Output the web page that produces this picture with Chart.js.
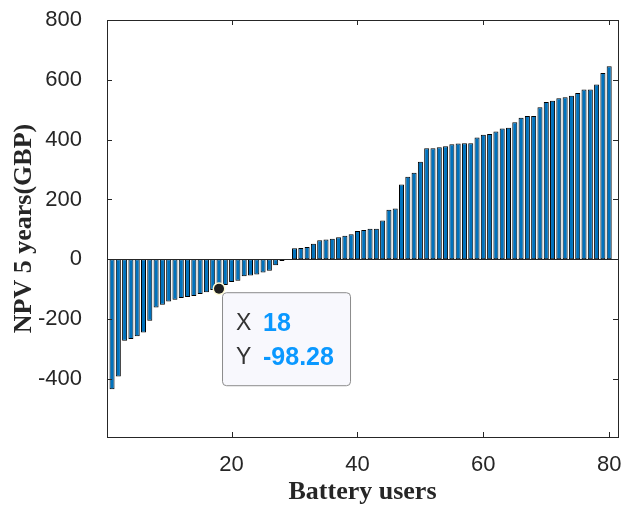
<!DOCTYPE html>
<html>
<head>
<meta charset="utf-8">
<script src="https://cdn.jsdelivr.net/npm/chart.js@4"></script>
<style>
  html, body { margin: 0; padding: 0; background: #ffffff; }
  #wrap { width: 628px; height: 510px; }
</style>
</head>
<body>
<div id="wrap"><canvas id="npvChart" width="628" height="510"></canvas></div>
<script>
// Battery users sorted by 5-year NPV (GBP)
const users = Array.from({ length: 80 }, (_, i) => i + 1);
const npv = [
    -434, -392, -272, -266, -257, -245, -205, -161, -152, -141,
    -135, -129, -126, -123, -116, -110, -103, -98.28, -86, -76,
    -72, -57, -54, -51, -44, -38, -20, -6, -2, 37,
    38, 41, 52, 64, 66, 69, 74, 79, 84, 95,
    98, 102, 102, 130, 166, 170, 250, 276, 289, 326,
    371, 371, 375, 378, 385, 387, 388, 388, 407, 416,
    419, 427, 437, 440, 458, 473, 479, 479, 508, 526,
    530, 538, 542, 547, 556, 568, 568, 584, 623, 645
];
const xTicks = [20, 40, 60, 80];
const yTicks = [-400, -200, 0, 200, 400, 600, 800];

// the data tip shown on the picture
const tipIndex = 17;

const axisColor = '#262626';
const barFill = '#0072BD';

const frame = {
    id: 'frame',
    afterDatasetsDraw(chart) {
        const { ctx, chartArea: a, scales: { x, y } } = chart;
        ctx.save();
        ctx.strokeStyle = axisColor;
        ctx.lineWidth = 1;

        // bar baseline at zero
        const y0 = Math.round(y.getPixelForValue(0)) + 0.5;
        ctx.beginPath();
        ctx.moveTo(a.left, y0);
        ctx.lineTo(a.right, y0);
        ctx.stroke();

        // box
        ctx.strokeRect(Math.round(a.left) + 0.5, Math.round(a.top) + 0.5,
            Math.round(a.right - a.left), Math.round(a.bottom - a.top));

        // inward ticks on all four sides
        ctx.beginPath();
        yTicks.forEach(v => {
            const py = Math.round(y.getPixelForValue(v)) + 0.5;
            ctx.moveTo(a.left, py); ctx.lineTo(a.left + 5, py);
            ctx.moveTo(a.right - 5, py); ctx.lineTo(a.right, py);
        });
        xTicks.forEach(v => {
            const px = Math.round(x.getPixelForValue(v)) + 0.5;
            ctx.moveTo(px, a.bottom); ctx.lineTo(px, a.bottom - 5);
            ctx.moveTo(px, a.top); ctx.lineTo(px, a.top + 5);
        });
        ctx.stroke();

        // data tip
        const tx = x.getPixelForValue(users[tipIndex]);
        const ty = y.getPixelForValue(npv[tipIndex]);
        const bx = tx + 3, by = ty + 3.5, bw = 128, bh = 93;
        ctx.beginPath();
        ctx.roundRect(bx + 0.5, by + 0.5, bw, bh, 4);
        ctx.fillStyle = '#f8f8fd';
        ctx.fill();
        ctx.strokeStyle = '#8c8c8c';
        ctx.stroke();

        ctx.beginPath();
        ctx.arc(tx, ty, 6.5, 0, Math.PI * 2);
        ctx.fillStyle = '#fffbd6';
        ctx.fill();
        ctx.beginPath();
        ctx.arc(tx, ty, 5, 0, Math.PI * 2);
        ctx.fillStyle = '#1f1f1f';
        ctx.fill();

        ctx.textBaseline = 'middle';
        ctx.textAlign = 'left';
        ctx.font = '23px "Liberation Sans", Arial, sans-serif';
        ctx.fillStyle = '#333333';
        ctx.fillText('X', tx + 17, ty + 35);
        ctx.fillText('Y', tx + 17, ty + 69);
        ctx.font = 'bold 25px "Liberation Sans", Arial, sans-serif';
        ctx.fillStyle = '#0a98ff';
        ctx.fillText(String(users[tipIndex]), tx + 44, ty + 35);
        ctx.fillText(String(npv[tipIndex]), tx + 44, ty + 69);
        ctx.restore();
    }
};

const ctx = document.getElementById('npvChart');

new Chart(ctx, {
    type: 'bar',
    data: {
        datasets: [{
            data: users.map((u, i) => ({ x: u, y: npv[i] })),
            backgroundColor: barFill,
            borderColor: '#000000',
            borderWidth: 1,
            borderSkipped: false,
            barPercentage: 0.8,
            categoryPercentage: 1
        }]
    },
    options: {
        responsive: false,
        animation: false,
        layout: { padding: { left: 0, top: 20, right: 10, bottom: 0 } },
        plugins: {
            legend: { display: false },
            tooltip: { enabled: false }
        },
        scales: {
            x: {
                type: 'linear',
                min: 0.2,
                max: 81.4,
                offset: false,
                grid: { display: false, drawTicks: false },
                border: { display: false },
                afterBuildTicks: s => { s.ticks = xTicks.map(v => ({ value: v })); },
                afterFit: s => {
                    s.height = 73;
                    s.paddingLeft = 0;
                    s.paddingRight = 0;
                },
                ticks: {
                    color: axisColor,
                    padding: 15,
                    maxRotation: 0,
                    font: { family: '"Liberation Sans", Arial, sans-serif', size: 22 }
                },
                title: {
                    display: true,
                    text: 'Battery users',
                    color: axisColor,
                    padding: { top: 0, bottom: 2 },
                    font: { family: '"Liberation Serif", "Times New Roman", serif', size: 26, weight: 'bold' }
                }
            },
            y: {
                min: -594,
                max: 800,
                grid: { display: false, drawTicks: false },
                border: { display: false },
                afterBuildTicks: s => { s.ticks = yTicks.map(v => ({ value: v })); },
                afterFit: s => {
                    s.width = 107;
                    s.paddingTop = 0;
                    s.paddingBottom = 0;
                },
                ticks: {
                    color: axisColor,
                    padding: 25,
                    font: { family: '"Liberation Sans", Arial, sans-serif', size: 22 }
                },
                title: {
                    display: true,
                    text: 'NPV 5 years(GBP)',
                    color: axisColor,
                    padding: { top: 9, bottom: 0 },
                    font: { family: '"Liberation Serif", "Times New Roman", serif', size: 26, weight: 'bold' }
                }
            }
        }
    },
    plugins: [frame]
});
</script>
</body>
</html>
